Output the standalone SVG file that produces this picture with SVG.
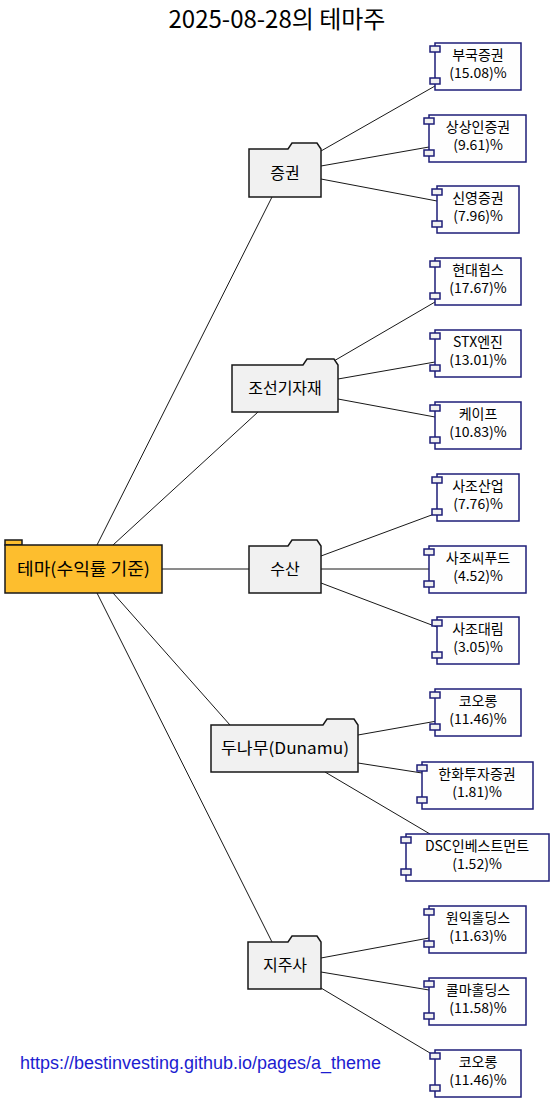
<svg xmlns="http://www.w3.org/2000/svg" width="555" height="1103" viewBox="0 0 555 1103">
<style>
text{font-family:"Noto Sans CJK KR","Malgun Gothic",sans-serif;fill:#000}
.title{font-size:24px}
.fl{font-size:16px}
.cl{font-size:14px}
.folder{fill:#F1F1F1;stroke:#181818;stroke-width:1.5}
.root{fill:#FDBE2E;stroke:#181818;stroke-width:1.5}
.comp{fill:#FEFEFE;stroke:#1E1E78;stroke-width:1.5}
.port{fill:#F1F1F1;stroke:#1E1E78;stroke-width:1.5}
.edge line{stroke:#181818;stroke-width:1}
.link{font-family:"Liberation Sans",Arial,sans-serif;font-size:18px;fill:#1C1CD0}
</style>
<rect width="555" height="1103" fill="#FFFFFF"/>
<text class="title" x="277" y="28" text-anchor="middle">2025-08-28의 테마주</text>

<g id="edges" class="edge">
<line x1="97" y1="545" x2="272" y2="197"/>
<line x1="113" y1="545" x2="258" y2="412"/>
<line x1="162" y1="569" x2="249" y2="569"/>
<line x1="113" y1="593" x2="230" y2="725"/>
<line x1="97" y1="593" x2="272" y2="942"/>
<line x1="321" y1="151" x2="435" y2="86"/>
<line x1="321" y1="166" x2="429" y2="147"/>
<line x1="321" y1="179" x2="437" y2="201"/>
<line x1="327" y1="365" x2="435" y2="302"/>
<line x1="338" y1="379" x2="435" y2="362"/>
<line x1="338" y1="399" x2="435" y2="417"/>
<line x1="321" y1="556" x2="437" y2="513"/>
<line x1="321" y1="569" x2="429" y2="569"/>
<line x1="321" y1="583" x2="437" y2="627"/>
<line x1="358" y1="735" x2="437" y2="721"/>
<line x1="358" y1="763" x2="422" y2="773"/>
<line x1="325" y1="772" x2="430" y2="834"/>
<line x1="321" y1="958" x2="429" y2="938"/>
<line x1="321" y1="972" x2="429" y2="990"/>
<line x1="321" y1="988" x2="435" y2="1056"/>
</g>

<g id="root">
<rect class="root" x="5" y="540" width="17" height="5"/>
<rect class="root" x="5" y="545" width="157" height="48"/>
<text class="fl" x="17" y="575" textLength="133" lengthAdjust="spacingAndGlyphs" style="font-size:17px">테마(수익률 기준)</text>
</g>

<g id="f-jeunggwon">
<path class="folder" d="M249,149 L288,149 L292,143 L317,143 L321,149 L321,197 L249,197 Z"/>
<text class="fl" x="285" y="179" text-anchor="middle">증권</text>
</g>
<g id="f-joseon">
<path class="folder" d="M232,365 L303,365 L307,359 L334,359 L338,365 L338,412 L232,412 Z"/>
<text class="fl" x="285" y="394" text-anchor="middle">조선기자재</text>
</g>
<g id="f-susan">
<path class="folder" d="M249,546 L288,546 L292,540 L317,540 L321,546 L321,593 L249,593 Z"/>
<text class="fl" x="285" y="575" text-anchor="middle">수산</text>
</g>
<g id="f-dunamu">
<path class="folder" d="M211,725 L323,725 L327,719 L354,719 L358,725 L358,772 L211,772 Z"/>
<text class="fl" x="221" y="754" textLength="128" lengthAdjust="spacingAndGlyphs">두나무(Dunamu)</text>
</g>
<g id="f-jijusa">
<path class="folder" d="M248,942 L288,942 L292,936 L317,936 L321,942 L321,989 L248,989 Z"/>
<text class="fl" x="285" y="971" text-anchor="middle">지주사</text>
</g>

<g id="c1">
<rect class="comp" x="435" y="43" width="86" height="47"/>
<rect class="port" x="430" y="46" width="10" height="6"/><rect class="port" x="430" y="78" width="10" height="6"/>
<text class="cl" x="478" y="60" text-anchor="middle">부국증권</text>
<text class="cl" x="478" y="78" text-anchor="middle">(15.08)%</text>
</g>
<g id="c2">
<rect class="comp" x="429" y="115" width="97" height="47"/>
<rect class="port" x="424" y="118" width="10" height="6"/><rect class="port" x="424" y="150" width="10" height="6"/>
<text class="cl" x="478" y="132" text-anchor="middle">상상인증권</text>
<text class="cl" x="478" y="150" text-anchor="middle">(9.61)%</text>
</g>
<g id="c3">
<rect class="comp" x="437" y="186" width="82" height="47"/>
<rect class="port" x="432" y="189" width="10" height="6"/><rect class="port" x="432" y="221" width="10" height="6"/>
<text class="cl" x="478" y="203" text-anchor="middle">신영증권</text>
<text class="cl" x="478" y="221" text-anchor="middle">(7.96)%</text>
</g>
<g id="c4">
<rect class="comp" x="435" y="258" width="86" height="47"/>
<rect class="port" x="430" y="261" width="10" height="6"/><rect class="port" x="430" y="293" width="10" height="6"/>
<text class="cl" x="478" y="275" text-anchor="middle">현대힘스</text>
<text class="cl" x="478" y="293" text-anchor="middle">(17.67)%</text>
</g>
<g id="c5">
<rect class="comp" x="435" y="330" width="86" height="47"/>
<rect class="port" x="430" y="333" width="10" height="6"/><rect class="port" x="430" y="365" width="10" height="6"/>
<text class="cl" x="478" y="347" text-anchor="middle">STX엔진</text>
<text class="cl" x="478" y="365" text-anchor="middle">(13.01)%</text>
</g>
<g id="c6">
<rect class="comp" x="435" y="402" width="86" height="47"/>
<rect class="port" x="430" y="405" width="10" height="6"/><rect class="port" x="430" y="437" width="10" height="6"/>
<text class="cl" x="478" y="419" text-anchor="middle">케이프</text>
<text class="cl" x="478" y="437" text-anchor="middle">(10.83)%</text>
</g>
<g id="c7">
<rect class="comp" x="437" y="474" width="82" height="47"/>
<rect class="port" x="432" y="477" width="10" height="6"/><rect class="port" x="432" y="509" width="10" height="6"/>
<text class="cl" x="478" y="491" text-anchor="middle">사조산업</text>
<text class="cl" x="478" y="509" text-anchor="middle">(7.76)%</text>
</g>
<g id="c8">
<rect class="comp" x="429" y="546" width="97" height="47"/>
<rect class="port" x="424" y="549" width="10" height="6"/><rect class="port" x="424" y="581" width="10" height="6"/>
<text class="cl" x="478" y="563" text-anchor="middle">사조씨푸드</text>
<text class="cl" x="478" y="581" text-anchor="middle">(4.52)%</text>
</g>
<g id="c9">
<rect class="comp" x="437" y="617" width="82" height="47"/>
<rect class="port" x="432" y="620" width="10" height="6"/><rect class="port" x="432" y="652" width="10" height="6"/>
<text class="cl" x="478" y="634" text-anchor="middle">사조대림</text>
<text class="cl" x="478" y="652" text-anchor="middle">(3.05)%</text>
</g>
<g id="c10">
<rect class="comp" x="435" y="689" width="86" height="47"/>
<rect class="port" x="430" y="692" width="10" height="6"/><rect class="port" x="430" y="724" width="10" height="6"/>
<text class="cl" x="478" y="706" text-anchor="middle">코오롱</text>
<text class="cl" x="478" y="724" text-anchor="middle">(11.46)%</text>
</g>
<g id="c11">
<rect class="comp" x="422" y="762" width="111" height="47"/>
<rect class="port" x="417" y="765" width="10" height="6"/><rect class="port" x="417" y="797" width="10" height="6"/>
<text class="cl" x="477" y="779" text-anchor="middle">한화투자증권</text>
<text class="cl" x="477" y="797" text-anchor="middle">(1.81)%</text>
</g>
<g id="c12">
<rect class="comp" x="406" y="834" width="143" height="47"/>
<rect class="port" x="401" y="837" width="10" height="6"/><rect class="port" x="401" y="869" width="10" height="6"/>
<text class="cl" x="477" y="851" text-anchor="middle">DSC인베스트먼트</text>
<text class="cl" x="477" y="869" text-anchor="middle">(1.52)%</text>
</g>
<g id="c13">
<rect class="comp" x="429" y="906" width="97" height="47"/>
<rect class="port" x="424" y="909" width="10" height="6"/><rect class="port" x="424" y="941" width="10" height="6"/>
<text class="cl" x="478" y="923" text-anchor="middle">원익홀딩스</text>
<text class="cl" x="478" y="941" text-anchor="middle">(11.63)%</text>
</g>
<g id="c14">
<rect class="comp" x="429" y="978" width="97" height="47"/>
<rect class="port" x="424" y="981" width="10" height="6"/><rect class="port" x="424" y="1013" width="10" height="6"/>
<text class="cl" x="478" y="995" text-anchor="middle">콜마홀딩스</text>
<text class="cl" x="478" y="1013" text-anchor="middle">(11.58)%</text>
</g>
<g id="c15">
<rect class="comp" x="435" y="1050" width="86" height="47"/>
<rect class="port" x="430" y="1053" width="10" height="6"/><rect class="port" x="430" y="1085" width="10" height="6"/>
<text class="cl" x="478" y="1067" text-anchor="middle">코오롱</text>
<text class="cl" x="478" y="1085" text-anchor="middle">(11.46)%</text>
</g>

<text class="link" x="20" y="1069" textLength="361" lengthAdjust="spacingAndGlyphs">https://bestinvesting.github.io/pages/a_theme</text>
</svg>
